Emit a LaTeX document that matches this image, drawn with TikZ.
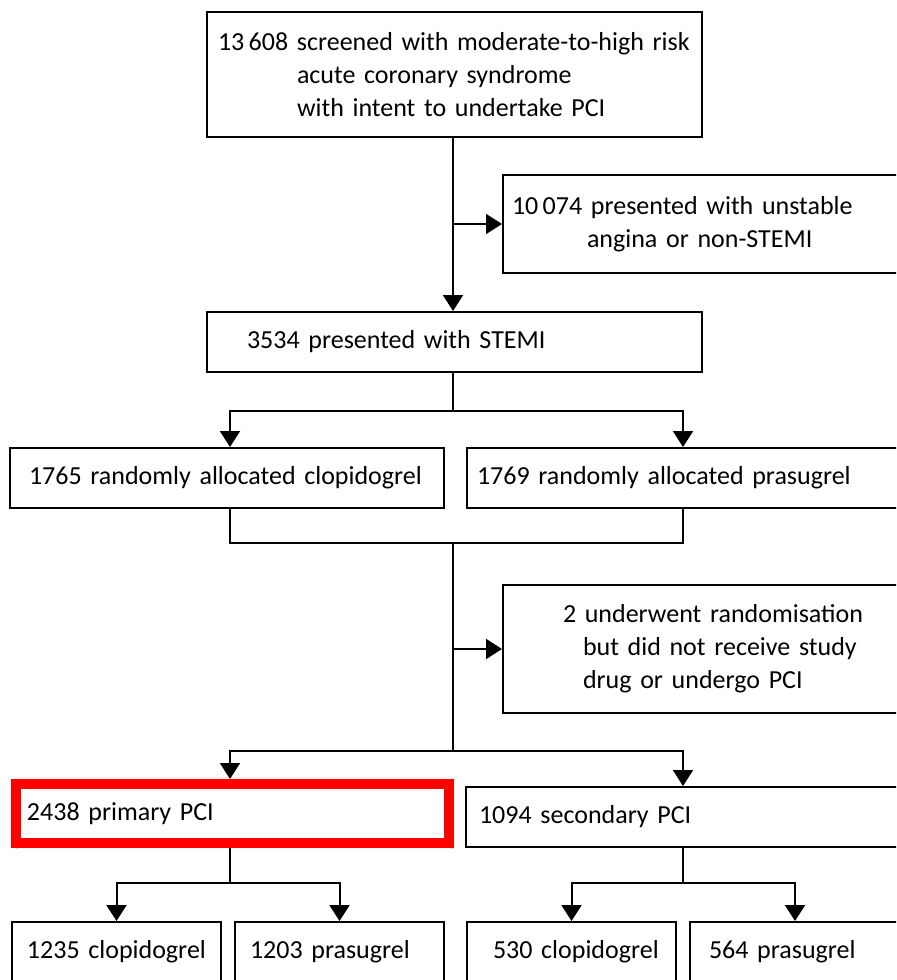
\documentclass[tikz,border=0pt]{standalone}
\usepackage{fontspec}
\setmainfont{Carlito}
\usetikzlibrary{arrows.meta,shadows.blur}
\begin{document}
\begin{tikzpicture}[x=0.75pt,y=-0.75pt,
  box/.style={draw=black,fill=white,line width=1.5pt,rectangle,inner xsep=0pt,inner ysep=0pt,
    align=left,anchor=center,font=\fontsize{19.5}{24.75}\selectfont},
  redbox/.style={box,draw={rgb,255:red,255;green,0;blue,0},line width=7.5pt,
    blur shadow={shadow xshift=1.5pt,shadow yshift=-2.5pt,shadow blur steps=6,shadow opacity=35}},
  arr/.style={line width=1.5pt,-{Triangle[length=12pt,width=15pt]}},
  ln/.style={line width=1.5pt}]
\useasboundingbox (0,0) rectangle (896,980);
\fill[white] (0,0) rectangle (896,980);
\clip (0,0) rectangle (896,980);

\node[box,text width=371.25pt,minimum height=93.75pt] (top) at (454.5,74.5)
  {\hspace*{8.25pt}13\,608 screened with moderate-to-high risk\\
   \hspace*{67.5pt}acute coronary syndrome\\
   \hspace*{67.5pt}with intent to undertake PCI};
\node[box,text width=337.5pt,minimum height=73.5pt] (ua) at (728,224)
  {\hspace*{6.75pt}10\,074 presented with unstable\\
   \hspace*{63pt}angina or non-STEMI};
\node[box,text width=371.25pt,minimum height=45pt] (stemi) at (454.5,342)
  {\hspace*{30pt}3534 presented with STEMI};
\node[box,text width=325.5pt,minimum height=45pt] (clop) at (227,478)
  {\hspace*{14.25pt}1765 randomly allocated clopidogrel};
\node[box,text width=337.5pt,minimum height=45pt] (pras) at (692,478)
  {\hspace*{7.5pt}1769 randomly allocated prasugrel};
\node[box,text width=337.5pt,minimum height=96pt] (excl) at (728,649)
  {\hspace*{45pt}2 underwent randomisation\\
   \hspace*{60pt}but did not receive study\\
   \hspace*{60pt}drug or undergo PCI};
\node[redbox,text width=325.125pt,minimum height=44.25pt] (prim) at (232.25,813.5)
  {\hspace*{8.6pt}2438 primary PCI};
\node[box,text width=337.5pt,minimum height=45pt] (sec) at (691,817)
  {\hspace*{9.75pt}1094 secondary PCI};
\node[box,text width=156.75pt,minimum height=45pt] (pc) at (116.5,952)
  {\hspace*{11.25pt}1235 clopidogrel};
\node[box,text width=156.75pt,minimum height=45pt] (pp) at (339.5,952)
  {\hspace*{11.25pt}1203 prasugrel};
\node[box,text width=156.75pt,minimum height=45pt] (sc) at (571.5,952)
  {\hspace*{19.5pt}530 clopidogrel};
\node[box,text width=157.5pt,minimum height=45pt] (sp) at (795,952)
  {\hspace*{14.25pt}564 prasugrel};

\coordinate (xC) at (453,0);
\coordinate (xL) at (230,0);
\coordinate (xR) at (683,0);
\coordinate (j1) at (453,411);
\coordinate (j2) at (453,543);
\coordinate (j3) at (453,751);
\coordinate (j4) at (230,883);
\coordinate (j5) at (683,883);

\draw[arr] (xC |- top.south) -- (xC |- stemi.north);
\draw[arr] (xC |- ua.west) -- (ua.west);
\draw[ln] (xC |- stemi.south) -- (j1);
\draw[arr] (j1) -| (xL |- clop.north);
\draw[arr] (j1) -| (xR |- pras.north);
\draw[ln] (xL |- clop.south) |- (j2) -| (xR |- pras.south);
\draw[ln] (j2) -- (j3);
\draw[arr] (xC |- excl.west) -- (excl.west);
\draw[arr] (j3) -| (xL |- prim.north);
\draw[arr] (j3) -| (xR |- sec.north);
\draw[ln] (xL |- prim.south) -- (j4);
\draw[arr] (j4) -| (pc.north);
\draw[arr] (j4) -| (pp.north);
\draw[ln] (xR |- sec.south) -- (j5);
\draw[arr] (j5) -| (sc.north);
\draw[arr] (j5) -| (sp.north);
\end{tikzpicture}
\end{document}
